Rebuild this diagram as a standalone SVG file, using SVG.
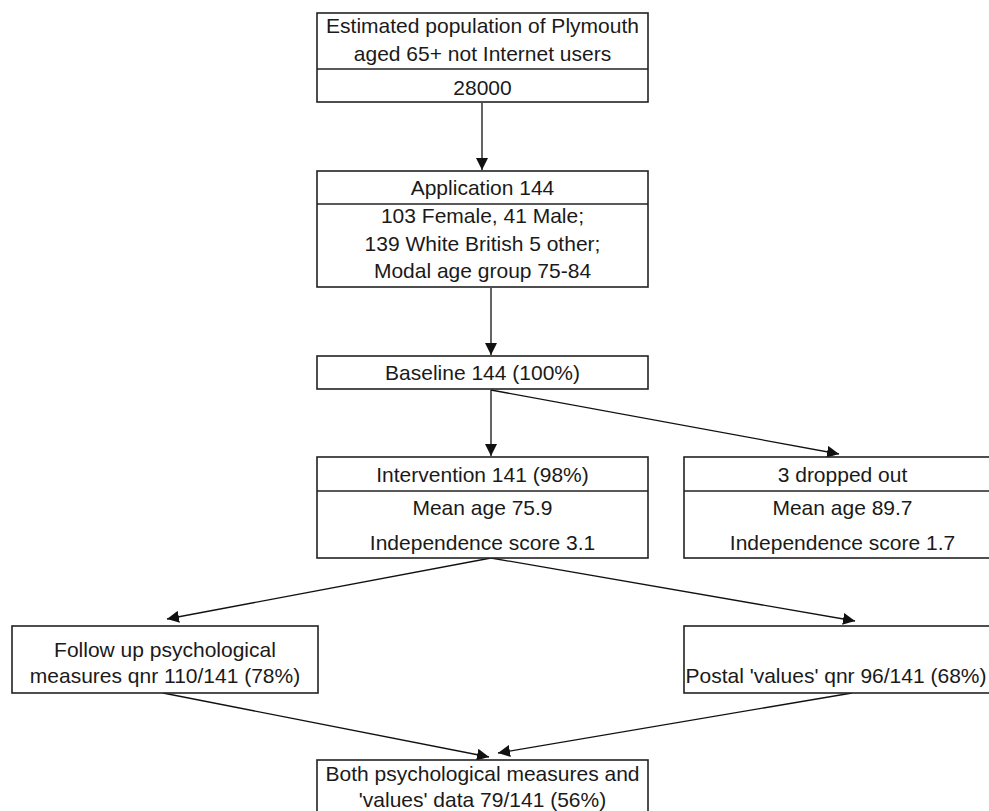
<svg xmlns="http://www.w3.org/2000/svg" width="989" height="811" viewBox="0 0 989 811">
<style>
rect.box{fill:#fff;stroke:#222;stroke-width:1.6}
line.div{stroke:#222;stroke-width:1.6}
text{font-family:"Liberation Sans",Arial,sans-serif;font-size:21px;fill:#1a1a1a;text-anchor:middle}
.conn line{stroke:#111;stroke-width:1.3;marker-end:url(#ah)}
</style>
<defs>
<marker id="ah" viewBox="0 0 12 12" refX="12" refY="6" markerWidth="12" markerHeight="12" markerUnits="userSpaceOnUse" orient="auto">
<path d="M0,0 L12,6 L0,12 z" fill="#111"/>
</marker>
</defs>
<rect width="989" height="811" fill="#fff"/>
<g class="conn" id="connectors">
<line x1="482" y1="103" x2="482" y2="170"/>
<line x1="491" y1="288" x2="491" y2="355"/>
<line x1="491" y1="390" x2="491" y2="456"/>
<line x1="491" y1="390" x2="839" y2="454"/>
<line x1="491" y1="558" x2="167" y2="619"/>
<line x1="491" y1="558" x2="855" y2="621"/>
<line x1="163" y1="693" x2="489" y2="757"/>
<line x1="852" y1="693" x2="498" y2="753"/>
</g>
<g id="n-population">
<rect class="box" x="317" y="13" width="331" height="89"/>
<line class="div" x1="317" y1="69" x2="648" y2="69"/>
<text x="482.5" y="33">Estimated population of Plymouth</text>
<text x="482.5" y="61">aged 65+ not Internet users</text>
<text x="482.5" y="95">28000</text>
</g>
<g id="n-application">
<rect class="box" x="317" y="171" width="331" height="116"/>
<line class="div" x1="317" y1="204" x2="648" y2="204"/>
<text x="482.5" y="195">Application 144</text>
<text x="482.5" y="223">103 Female, 41 Male;</text>
<text x="482.5" y="251">139 White British 5 other;</text>
<text x="482.5" y="278">Modal age group 75-84</text>
</g>
<g id="n-baseline">
<rect class="box" x="317" y="356" width="331" height="33"/>
<text x="482.5" y="380">Baseline 144 (100%)</text>
</g>
<g id="n-intervention">
<rect class="box" x="317" y="457" width="331" height="101"/>
<line class="div" x1="317" y1="491" x2="648" y2="491"/>
<text x="482.5" y="482">Intervention 141 (98%)</text>
<text x="482.5" y="515">Mean age 75.9</text>
<text x="482.5" y="550">Independence score 3.1</text>
</g>
<g id="n-dropped">
<rect class="box" x="684" y="457" width="320" height="101"/>
<line class="div" x1="684" y1="491" x2="1004" y2="491"/>
<text x="842.5" y="482">3 dropped out</text>
<text x="842.5" y="515">Mean age 89.7</text>
<text x="842.5" y="550">Independence score 1.7</text>
</g>
<g id="n-followup">
<rect class="box" x="12" y="626" width="306" height="67"/>
<text x="165" y="657">Follow up psychological</text>
<text x="165" y="683">measures qnr 110/141 (78%)</text>
</g>
<g id="n-postal">
<rect class="box" x="684" y="626" width="320" height="67"/>
<text x="836" y="683">Postal 'values' qnr 96/141 (68%)</text>
</g>
<g id="n-both">
<rect class="box" x="317" y="760" width="331" height="60"/>
<text x="482.5" y="781">Both psychological measures and</text>
<text x="482.5" y="807">'values' data 79/141 (56%)</text>
</g>
</svg>
